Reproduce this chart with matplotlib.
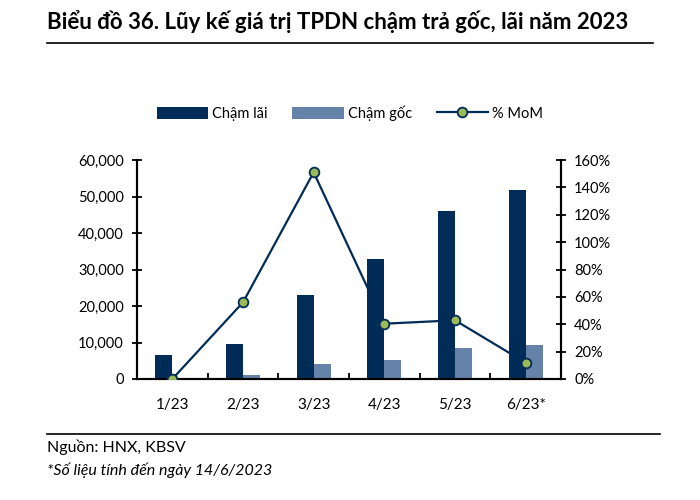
"""Biểu đồ 36: lũy kế giá trị TPDN chậm trả gốc, lãi năm 2023."""
import matplotlib
matplotlib.use("Agg")
import matplotlib.pyplot as plt
import numpy as np
from matplotlib.ticker import FuncFormatter

plt.rcParams["font.family"] = ["Lato", "DejaVu Sans"]

months = ["1/23", "2/23", "3/23", "4/23", "5/23", "6/23*"]
cham_lai = [6700, 9500, 22900, 32900, 46100, 51700]
cham_goc = [0, 1000, 4000, 5200, 8400, 9200]
mom_pct = [0, 56, 151, 40.4, 42.9, 11.9]

NAVY = "#002c57"
STEEL = "#6582a8"
GREEN = "#9bbb59"

fig = plt.figure(figsize=(7, 5), dpi=100)
ax = fig.add_axes([0.1957, 0.242, 0.6057, 0.438])
ax2 = ax.twinx()

x = np.arange(len(months))
w = 0.24
ax.bar(x - w / 2, cham_lai, width=w, color=NAVY, label="Chậm lãi", zorder=2)
ax.bar(x + w / 2, cham_goc, width=w, color=STEEL, label="Chậm gốc", zorder=2)
ax2.plot(x, mom_pct, color=NAVY, lw=1.6, marker="o", ms=7,
         markerfacecolor=GREEN, markeredgecolor=NAVY, markeredgewidth=1.3,
         label="% MoM", zorder=3)

ax.set_xlim(-0.5, len(months) - 0.5)
ax.set_ylim(0, 60000)
ax2.set_ylim(0, 160)
ax.set_yticks(np.arange(0, 60001, 10000))
ax2.set_yticks(np.arange(0, 161, 20))
ax.yaxis.set_major_formatter(FuncFormatter(lambda v, p: f"{v:,.0f}"))
ax2.yaxis.set_major_formatter(FuncFormatter(lambda v, p: f"{v:.0f}%"))

ax.set_xticks(x)
ax.set_xticklabels(months)
ax.set_xticks(np.arange(0.5, len(months) - 0.5, 1), minor=True)
ax.tick_params(axis="x", which="major", length=0, pad=14, labelsize=11)
ax.tick_params(axis="x", which="minor", length=4, width=1.3, direction="in")
ax.tick_params(axis="y", length=7, width=1.3, direction="inout", labelsize=10.5, pad=6)
ax2.tick_params(axis="y", length=7, width=1.3, direction="inout", labelsize=10.5, pad=6)

for a in (ax, ax2):
    a.spines["top"].set_visible(False)
    for s in ("left", "right", "bottom"):
        a.spines[s].set_linewidth(1.5)
ax2.set_zorder(ax.get_zorder() + 1)
ax2.patch.set_visible(False)

h1, l1 = ax.get_legend_handles_labels()
h2, l2 = ax2.get_legend_handles_labels()
fig.legend(h1 + h2, l1 + l2, loc="center", bbox_to_anchor=(0.5, 0.774), ncol=3,
           frameon=False, fontsize=10.5, handlelength=3.5, handleheight=0.9,
           columnspacing=1.7, handletextpad=0.3)

fig.text(0.067, 0.956, "Biểu đồ 36. Lũy kế giá trị TPDN chậm trả gốc, lãi năm 2023",
         fontsize=16, fontweight="bold", va="center", ha="left")
fig.add_artist(plt.Line2D([0.067, 0.933], [0.914, 0.914], color="black", lw=1.2))
fig.add_artist(plt.Line2D([0.067, 0.943], [0.132, 0.132], color="black", lw=1.2))
fig.text(0.067, 0.106, "Nguồn: HNX, KBSV", fontsize=11.5, va="center", ha="left")
fig.text(0.067, 0.06, "*Số liệu tính đến ngày 14/6/2023", fontsize=11.5,
         style="italic", va="center", ha="left")

fig.savefig("out.png", dpi=100)
